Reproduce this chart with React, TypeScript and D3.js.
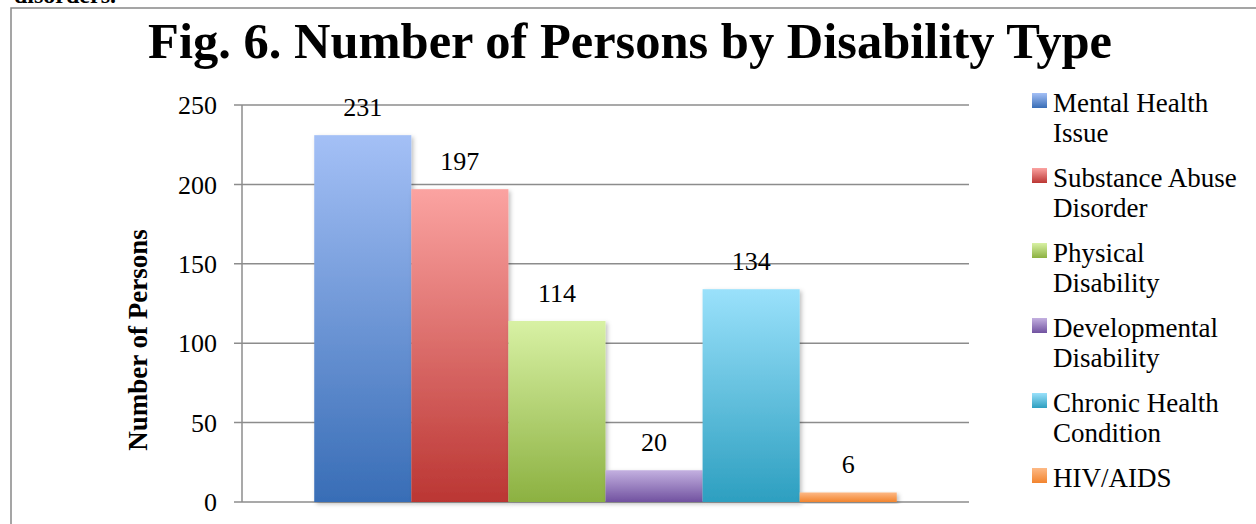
import React from 'react';
import * as d3 from 'd3';

// values
const categories = [
  'Mental Health Issue',
  'Substance Abuse Disorder',
  'Physical Disability',
  'Developmental Disability',
  'Chronic Health Condition',
  'HIV/AIDS',
];
const values = [231, 197, 114, 20, 134, 6];
const legendLines = [
  ['Mental Health', 'Issue'],
  ['Substance Abuse', 'Disorder'],
  ['Physical', 'Disability'],
  ['Developmental', 'Disability'],
  ['Chronic Health', 'Condition'],
  ['HIV/AIDS'],
];
const yTicks = [0, 50, 100, 150, 200, 250];
// [top, bottom] gradient stops
const barColors = [
  ['#a4c0f6', '#386db6'],
  ['#fba3a1', '#bb3633'],
  ['#d8f1a4', '#8cb141'],
  ['#c3b0e0', '#7152a0'],
  ['#9ae1fb', '#2d9fc0'],
  ['#fdb986', '#f2842e'],
];

const W = 1256;
const H = 524;
const plot = { left: 242, right: 969, top: 105, bottom: 502 };
const serif = '"Liberation Serif", "DejaVu Serif", serif';

export default function App() {
  const y = d3.scaleLinear().domain([0, 250]).range([plot.bottom, plot.top]);
  const outer = d3.scaleBand<string>()
    .domain(['all'])
    .range([plot.left, plot.right])
    .paddingOuter(0.124);
  const x0 = outer('all') || 0;
  const x = d3.scaleBand<string>()
    .domain(categories)
    .range([x0, x0 + outer.bandwidth()]);

  return (
    <svg
      width={W}
      height={H}
      style={{ position: 'absolute', left: 0, top: 0, background: '#fff' }}
      fontFamily={serif}
    >
      <defs>
        {barColors.map((c, i) => (
          <linearGradient key={i} id={`g${i}`} x1="0" y1="0" x2="0" y2="1">
            <stop offset="0%" stopColor={c[0]} />
            <stop offset="100%" stopColor={c[1]} />
          </linearGradient>
        ))}
        <filter id="shadow" x="-10%" y="-10%" width="130%" height="130%">
          <feDropShadow dx="2" dy="2" stdDeviation="2" floodColor="#000" floodOpacity="0.25" />
        </filter>
      </defs>

      {/* text of the page above, cut off like in the scan */}
      <text x={14} y={3} fontSize={24} fontWeight="bold" fill="#000">disorders.</text>

      {/* outer chart frame */}
      <rect x={11} y={8} width={W} height={H} fill="#fff" stroke="#888" strokeWidth={1.5} />

      <text x={630} y={58} textAnchor="middle" fontSize={50.5} fontWeight="bold" fill="#000">
        Fig. 6. Number of Persons by Disability Type
      </text>

      {/* grid + ticks */}
      {yTicks.map(t => (
        <g key={t}>
          <line x1={plot.left - 8} x2={plot.right} y1={y(t)} y2={y(t)} stroke="#8c8c8c" strokeWidth={1.5} />
          <text x={217} y={y(t)} dy="0.35em" textAnchor="end" fontSize={26} fill="#000">{t}</text>
        </g>
      ))}
      <line x1={plot.left} x2={plot.left} y1={plot.top} y2={plot.bottom} stroke="#8c8c8c" strokeWidth={1.5} />

      <text
        transform={`translate(147,340) rotate(-90)`}
        textAnchor="middle"
        fontSize={27}
        fontWeight="bold"
        fill="#000"
      >
        Number of Persons
      </text>

      {/* bars */}
      {categories.map((c, i) => (
        <rect
          key={c}
          x={x(c)}
          y={y(values[i])}
          width={x.bandwidth()}
          height={y(0) - y(values[i])}
          fill={`url(#g${i})`}
          filter="url(#shadow)"
        />
      ))}
      {categories.map((c, i) => (
        <text
          key={c}
          x={(x(c) || 0) + x.bandwidth() / 2}
          y={y(values[i]) - 19}
          textAnchor="middle"
          fontSize={26}
          fill="#000"
        >
          {values[i]}
        </text>
      ))}

      {/* legend */}
      {legendLines.map((lines, i) => (
        <g key={i} transform={`translate(1032,${112 + i * 75})`}>
          <rect x={0} y={-19} width={15} height={15} fill={`url(#g${i})`} />
          {lines.map((l, j) => (
            <text key={j} x={21} y={j * 30} fontSize={27} fill="#000">{l}</text>
          ))}
        </g>
      ))}
    </svg>
  );
}
